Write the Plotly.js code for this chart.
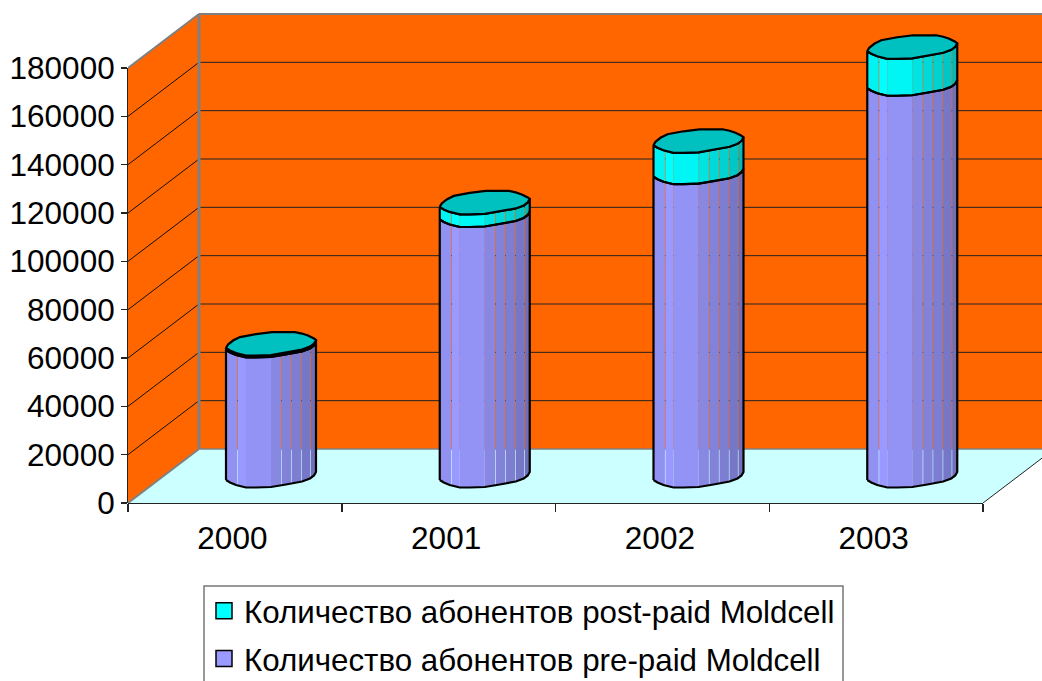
<!DOCTYPE html>
<html><head><meta charset="utf-8">
<script src="https://cdn.plot.ly/plotly-3.0.1.min.js"></script>
<style>html,body{margin:0;padding:0;background:#fff;overflow:hidden}</style>
</head><body><div id="chart" style="width:1042px;height:681px"></div>
<script>
const categories = ['2000','2001','2002','2003'];
const prePaid = [53800, 107800, 125500, 162100];
const postPaid = [800, 5200, 13000, 15300];
const yTicks = [0,20000,40000,60000,80000,100000,120000,140000,160000,180000];
const preName = 'Количество абонентов pre-paid Moldcell';
const postName = 'Количество абонентов post-paid Moldcell';

// scale: px per data unit
const PX_X = 213.75, PX_Y = 435/180000;
const px = d => d/PX_X, py = d => d/PX_Y;
const M = {l:128, r:0, t:12, b:178};
const xMax = (1042-128)/PX_X, yMax = (503-12)/PX_Y;
const depthX = px(71), depthY = py(54);
const colLeft = px(98), colBase = py(23);

// cylinder profile in px relative to the left edge
const front = [[0,0],[4,2.5],[10,5],[20,7.5],[30,7.5],[45,7],[60,4.5],[76,1.5],[84,-1.5],[88,-4.5],[90,-8]];
const back = [[0,0],[2,-3.5],[7,-7.5],[14,-11],[30,-14],[46,-16],[58,-16],[69,-16],[76,-14.5],[82,-12.5],[88,-9.5],[90,-8]];
const stripEdges = [0,12,20,45,56,66,76,85,90];
const stripShade = [.95,1,.96,.89,.85,.82,.78,.73];
const seams = [12,56,66,76,85];

function frontY(d){
  for(let i=1;i<front.length;i++){
    if(d<=front[i][0]){const a=front[i-1],b=front[i];return a[1]+(b[1]-a[1])*(d-a[0])/(b[0]-a[0]);}
  }
  return front[front.length-1][1];
}
function shade(rgb,f){return 'rgb('+rgb.map(c=>Math.round(c*f)).join(',')+')';}

const traces = [];
function poly(xs,ys,fill,line,w){
  traces.push({type:'scatter',mode:line?'lines':'none',x:xs.concat(xs[0]),y:ys.concat(ys[0]),
    fill:fill?'toself':'none',fillcolor:fill||undefined,
    line:line?{color:line,width:w||2}:{width:0},showlegend:false,hoverinfo:'skip'});
}
// real stacked data bars, sitting inside the cylinders
const barX = categories.map((c,i)=>i+colLeft+px(32.5));
traces.push({type:'bar',x:barX,y:prePaid,base:prePaid.map(()=>colBase),width:px(20),
  marker:{color:'#9999FF'},showlegend:false,hoverinfo:'skip'});
traces.push({type:'bar',x:barX,y:postPaid,base:prePaid.map(v=>colBase+v),width:px(20),
  marker:{color:'#00FFFF'},showlegend:false,hoverinfo:'skip'});

function band(left,lo,hi,rgb){
  for(let s=0;s<stripShade.length;s++){
    const a=stripEdges[s], b=stripEdges[s+1]-(seams.includes(stripEdges[s+1])?0.6:0);
    const pts=[a,...front.map(p=>p[0]).filter(d=>d>a&&d<b),b];
    const xs=[],ys=[];
    pts.forEach(d=>{xs.push(left+px(d));ys.push(lo-py(frontY(d)));});
    pts.slice().reverse().forEach(d=>{xs.push(left+px(d));ys.push(hi-py(frontY(d)));});
    poly(xs,ys,shade(rgb,stripShade[s]));
  }
}
function bandOutline(left,lo,hi){
  const xs=[],ys=[];
  front.forEach(p=>{xs.push(left+px(p[0]));ys.push(lo-py(p[1]));});
  front.slice().reverse().forEach(p=>{xs.push(left+px(p[0]));ys.push(hi-py(p[1]));});
  poly(xs,ys,null,'#000',2.2);
}
categories.forEach((c,i)=>{
  const left=i+colLeft, t1=colBase+prePaid[i], t2=t1+postPaid[i];
  band(left,colBase,t1,[153,153,255]);
  band(left,t1,t2,[0,255,255]);
  bandOutline(left,colBase,t1);
  bandOutline(left,t1,t2);
  const xs=[],ys=[];
  back.forEach(p=>{xs.push(left+px(p[0]));ys.push(t2-py(p[1]));});
  front.slice().reverse().forEach(p=>{xs.push(left+px(p[0]));ys.push(t2-py(p[1]));});
  poly(xs,ys,'#00C0C0','#000',2.2);
});
// legend entries
traces.push({type:'scatter',mode:'markers',x:[null],y:[null],name:postName,legendgroup:'a',
  marker:{symbol:'square',size:18,color:'#00FFFF',line:{color:'#000',width:1.5}},hoverinfo:'skip'});
traces.push({type:'scatter',mode:'markers',x:[null],y:[null],name:preName,legendgroup:'b',
  marker:{symbol:'square',size:18,color:'#9999FF',line:{color:'#000',width:1.5}},hoverinfo:'skip'});

const shapes = [];
const topV = 180000;
const path = pts => 'M'+pts.map(p=>p[0]+','+p[1]).join('L')+'Z';
shapes.push({type:'path',layer:'below',path:path([[depthX,depthY],[depthX,topV+depthY],[xMax+1,topV+depthY],[xMax+1,depthY]]),fillcolor:'#FF6600',line:{width:0}});
shapes.push({type:'path',layer:'below',path:path([[0,0],[0,topV],[depthX,topV+depthY],[depthX,depthY]]),fillcolor:'#FF6600',line:{width:0}});
shapes.push({type:'path',layer:'below',path:path([[0,0],[depthX,depthY],[4+depthX,depthY],[4,0]]),fillcolor:'#CCFFFF',line:{width:0}});
function seg(x0,y0,x1,y1,color,width,xref,yref){
  shapes.push({type:'line',layer:'below',x0,y0,x1,y1,xref:xref||'x',yref:yref||'y',line:{color,width}});
}
yTicks.slice(1).forEach(v=>{
  seg(0,v,depthX,v+depthY,'#111',1);
  seg(depthX,v+depthY,xMax+1,v+depthY,'#222',1);
});
seg(depthX,depthY,depthX,topV+depthY,'#808080',3);
seg(depthX,topV+depthY,xMax+1,topV+depthY,'#808080',2);
seg(0,topV,depthX,topV+depthY,'#808080',2);
seg(0,0,depthX,depthY,'#808080',2);
seg(depthX,depthY,xMax+1,depthY,'#808080',1.5);
seg(4,0,4+depthX,depthY,'#222',1);
seg(0,0,0,topV,'#222',2,'paper','y');
seg(0,0,4,0,'#222',2,'x','paper');
// legend frame
shapes.push({type:'rect',layer:'above',xref:'paper',yref:'paper',
  x0:(204-128)/914,x1:(843-128)/914,y0:(503-690)/491,y1:(503-586)/491,line:{color:'#777',width:1.5}});

Plotly.newPlot('chart',traces,{
  width:1042,height:681,paper_bgcolor:'#fff',plot_bgcolor:'rgba(0,0,0,0)',
  margin:{l:M.l,r:M.r,t:M.t,b:M.b,autoexpand:false},
  barmode:'overlay',shapes,
  font:{family:'"Liberation Sans",Arial,sans-serif',size:31.5,color:'#000'},
  xaxis:{range:[0,xMax],tickmode:'array',tickvals:categories.map((c,i)=>i+0.5-px(2.5)),ticktext:categories,
    ticks:'outside',ticklen:7,tickcolor:'rgba(0,0,0,0)',showgrid:false,zeroline:false,showline:false,
    minor:{tickmode:'array',tickvals:[0,1,2,3,4],ticks:'outside',ticklen:8,tickwidth:1.5,tickcolor:'#222',showgrid:false}},
  yaxis:{range:[0,yMax],tickmode:'array',tickvals:yTicks,tickformat:'d',ticks:'outside',ticklen:6,tickwidth:1.5,tickcolor:'#222',
    showgrid:false,zeroline:false,showline:false},
  showlegend:true,
  legend:{x:(204-128)/914,y:(503-584)/491,xanchor:'left',yanchor:'top',traceorder:'grouped',tracegroupgap:4,
    bgcolor:'rgba(0,0,0,0)',borderwidth:0,font:{size:31.3}}
},{displayModeBar:false,staticPlot:true});
</script></body></html>
